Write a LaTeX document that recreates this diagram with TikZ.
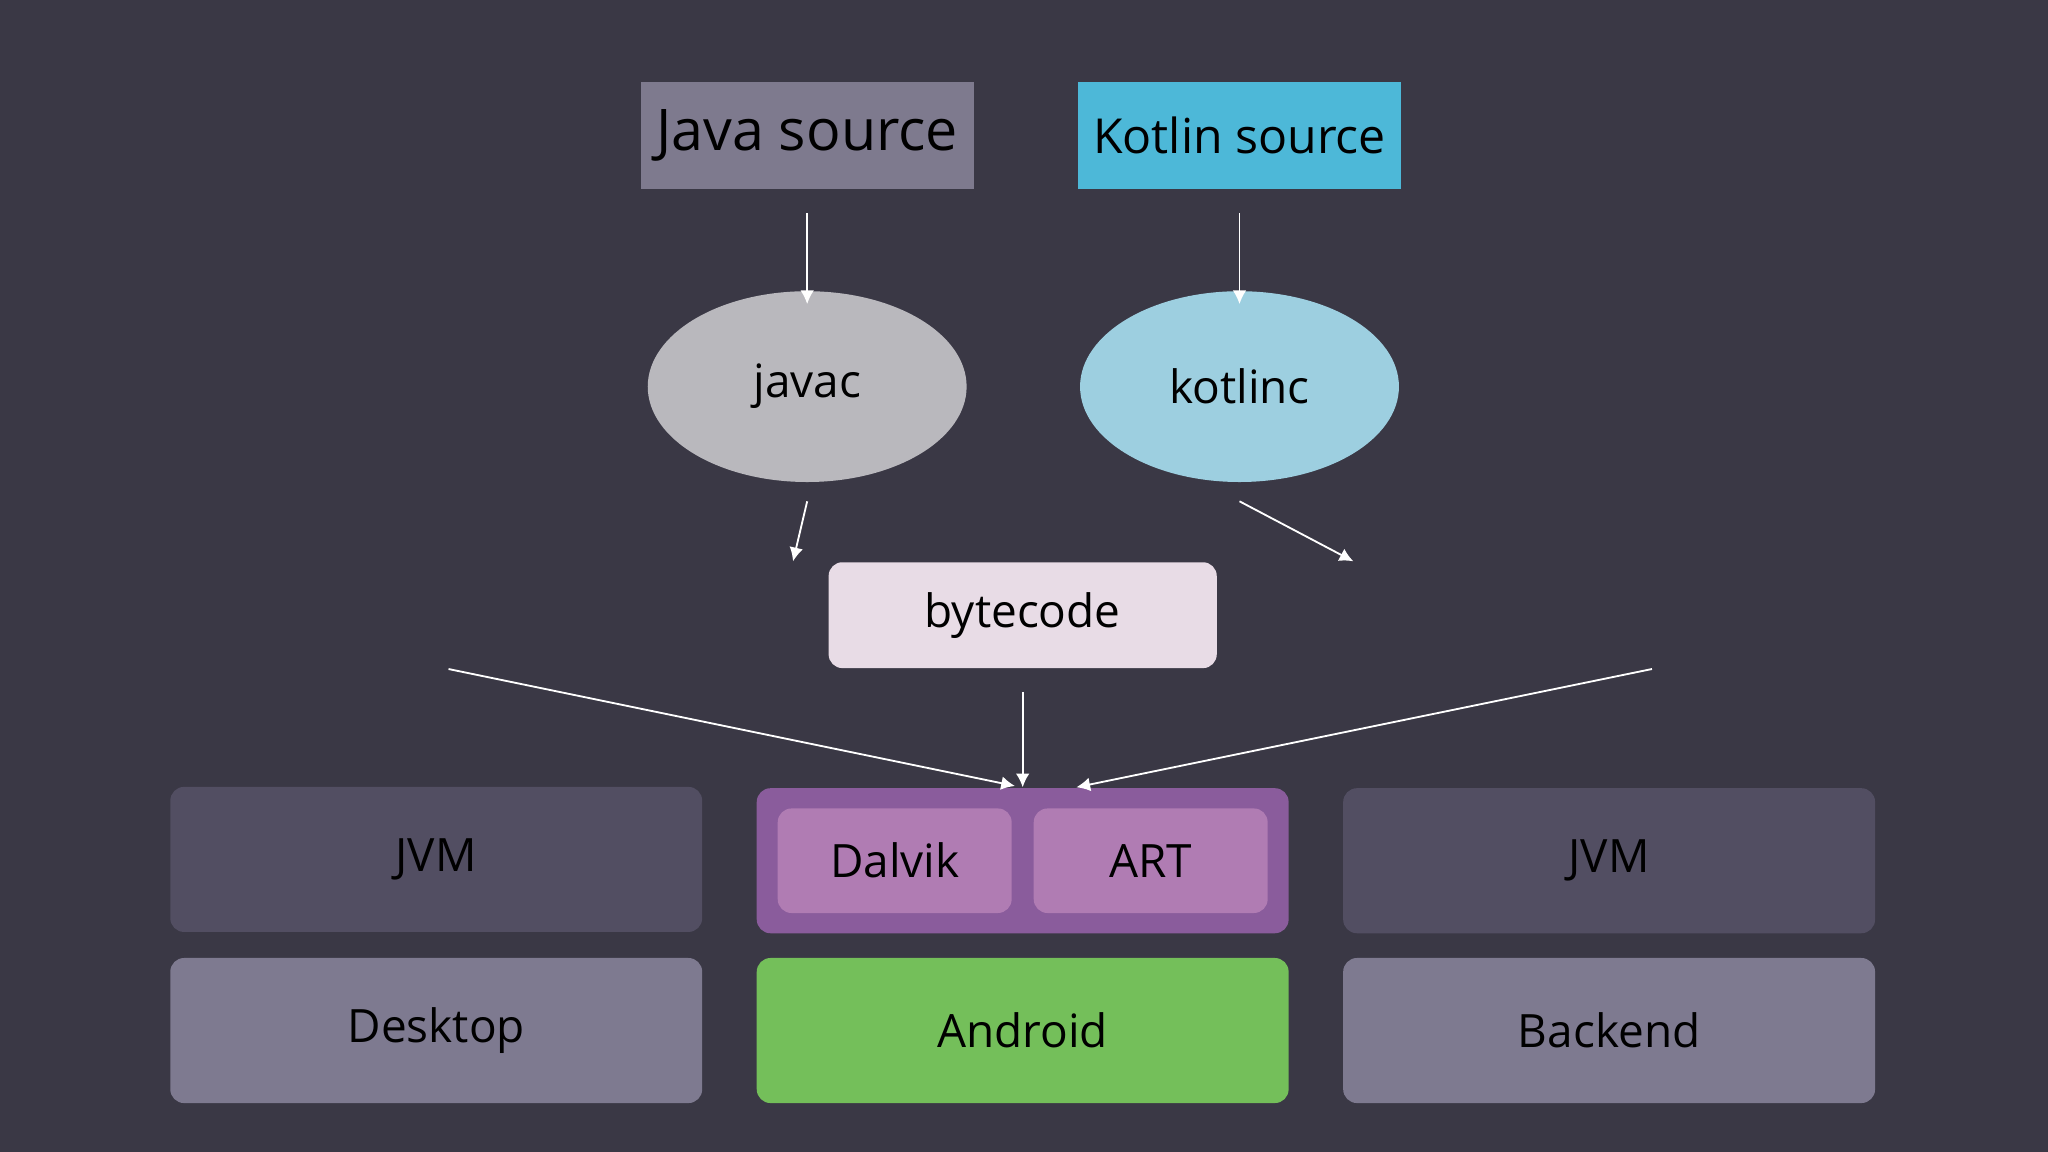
\documentclass[tikz,border=0pt]{standalone}
\usepackage{fontspec}
\setmainfont{Open Sans}
\usetikzlibrary{arrows.meta,shapes.geometric}
\definecolor{bg}{HTML}{3A3845}
\definecolor{javagrey}{HTML}{7E7A8E}
\definecolor{kotlinblue}{HTML}{4DB8D8}
\definecolor{javacgrey}{HTML}{B9B8BD}
\definecolor{kotlincblue}{HTML}{9DCFE0}
\definecolor{bytepink}{HTML}{E8DCE6}
\definecolor{jvmdark}{HTML}{524E62}
\definecolor{artpurple}{HTML}{8A5C9C}
\definecolor{vmpurple}{HTML}{B07CB3}
\definecolor{platgrey}{HTML}{7E7A90}
\definecolor{androidgreen}{HTML}{74BF5A}
\tikzset{
  box/.style={draw=none, minimum width=4.07cm, minimum height=1.11cm, rounded corners=3pt, font=\fontsize{10}{12}\selectfont},
  src/.style={draw=none, minimum width=2.44cm, minimum height=0.82cm},
  comp/.style={ellipse, draw=none, minimum width=2.44cm, minimum height=1.46cm, font=\fontsize{10}{12}\selectfont},
  flow/.style={white, -{Latex[length=3pt,width=3pt]}}
}
\begin{document}
\begin{tikzpicture}[x=0.01cm,y=-0.01cm]
% Background
\fill[bg] (0,0) rectangle (1568,882);

% Sources
\node[src, fill=javagrey, font=\fontsize{12.5}{14}\selectfont] (java) at (618,104) {Java source};
\node[src, fill=kotlinblue, font=\fontsize{10.5}{12}\selectfont] (kotlin) at (949,104) {Kotlin source};

% Compilers
\node[comp, fill=javacgrey] (javac) at (618,296) {javac};
\node[comp, fill=kotlincblue] (kotlinc) at (949,296) {kotlinc};

% Bytecode
\node[box, fill=bytepink, minimum width=2.97cm, minimum height=0.81cm] (bytecode) at (783,471) {bytecode};

% Runtimes
\node[box, fill=jvmdark] (jvmL) at (334,658) {JVM};
\node[box, fill=artpurple] (vm) at (783,659) {};
\node[box, fill=vmpurple, minimum width=1.79cm, minimum height=0.8cm] (dalvik) at (685,659) {Dalvik};
\node[box, fill=vmpurple, minimum width=1.79cm, minimum height=0.8cm] (art) at (881,659) {ART};
\node[box, fill=jvmdark] (jvmR) at (1232,659) {JVM};

% Platforms
\node[box, fill=platgrey] (desktop) at (334,789) {Desktop};
\node[box, fill=androidgreen] (android) at (783,789) {Android};
\node[box, fill=platgrey] (backend) at (1232,789) {Backend};

% Arrows
\draw[flow] ([yshift=-5]java.south) -- ([yshift=-3]javac.north);
\draw[flow] ([yshift=-5]kotlin.south) -- ([yshift=-3]kotlinc.north);
\draw[flow] ([yshift=-4]javac.south) -- ([xshift=-50]bytecode.north);
\draw[flow] ([yshift=-4]kotlinc.south) -- ([xshift=72]bytecode.north);
\draw[flow] ([xshift=-125]bytecode.south) -- ([xshift=126]jvmL.north);
\draw[flow] ([yshift=-5]bytecode.south) -- (vm.north);
\draw[flow] ([xshift=137]bytecode.south) -- ([xshift=-116]jvmR.north);
\end{tikzpicture}
\end{document}
